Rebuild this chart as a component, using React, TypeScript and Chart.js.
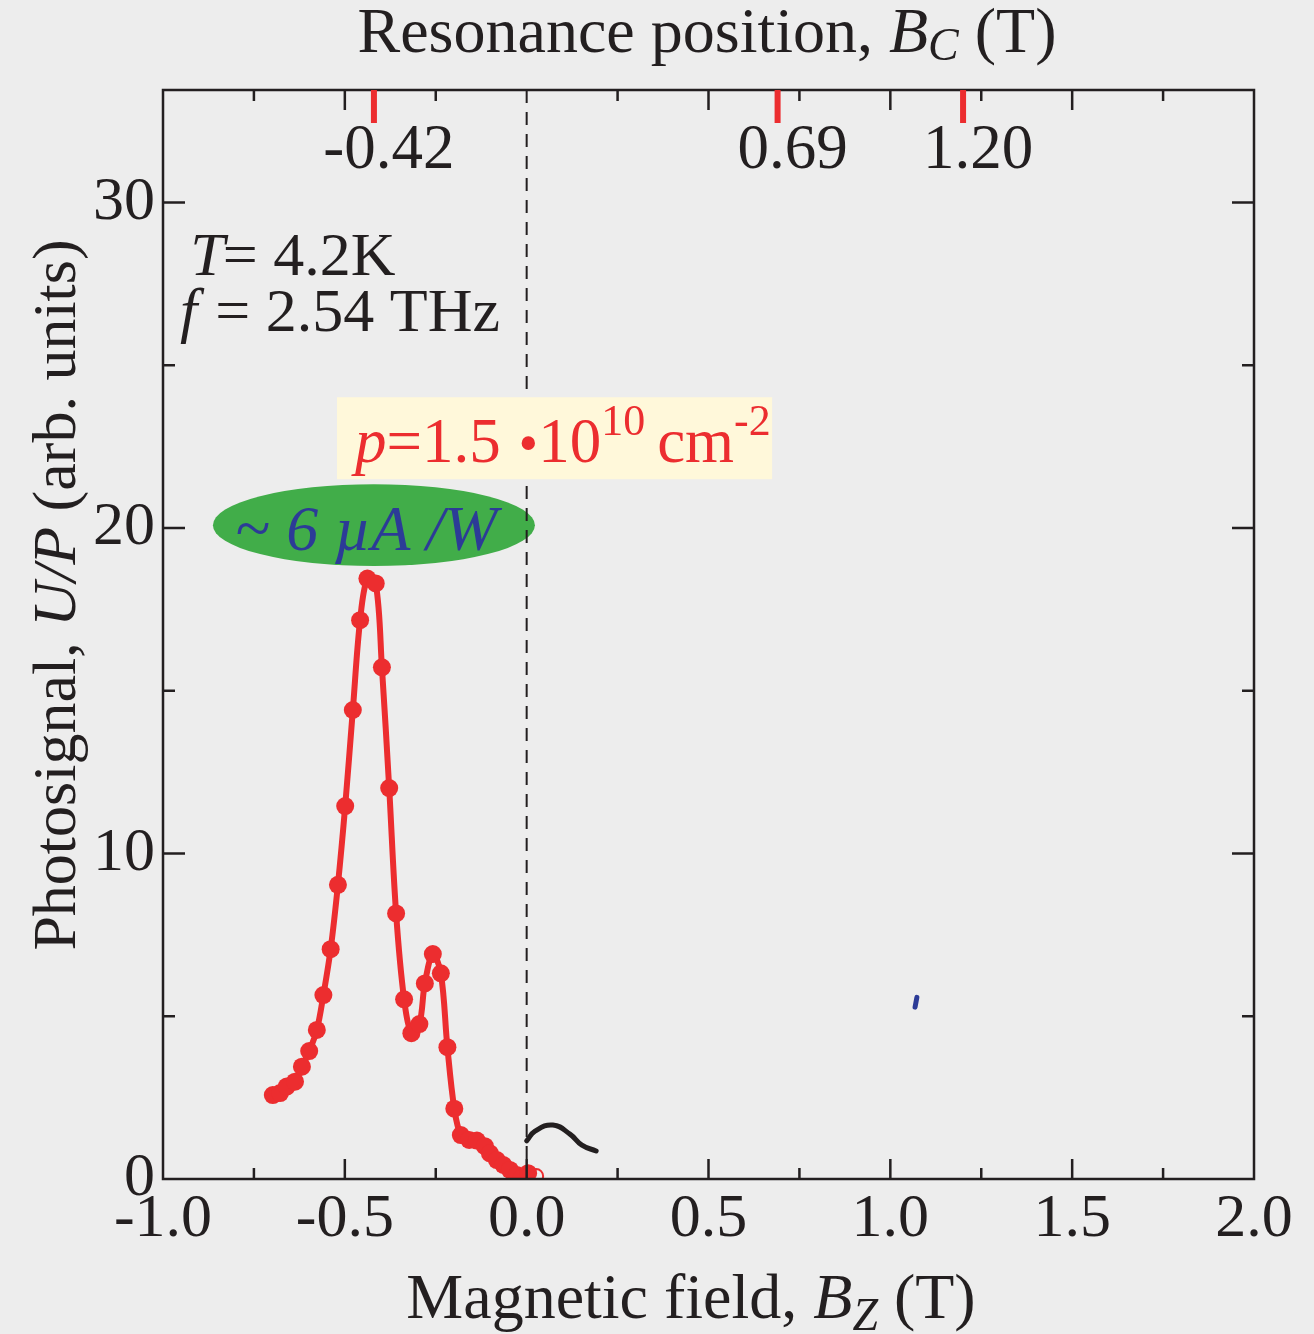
import { useEffect, useRef } from 'react';
import { Chart, registerables } from 'chart.js';

Chart.register(...registerables);

// ---- data ----
const fieldB = [
  -0.698, -0.678, -0.660, -0.637, -0.618, -0.598, -0.577, -0.559, -0.539, -0.519,
  -0.499, -0.478, -0.458, -0.438, -0.415, -0.398, -0.378, -0.359, -0.337, -0.317,
  -0.295, -0.280, -0.258, -0.236, -0.218, -0.199, -0.181, -0.158, -0.137, -0.115,
  -0.101, -0.082, -0.064, -0.046, -0.027, -0.014, 0.004,
];
const signal = [
  2.58, 2.64, 2.84, 2.99, 3.45, 3.93, 4.58, 5.65, 7.06, 9.04,
  11.46, 14.41, 17.17, 18.45, 18.30, 15.72, 12.01, 8.16, 5.52, 4.48,
  4.76, 6.01, 6.91, 6.32, 4.05, 2.16, 1.35, 1.20, 1.18, 1.01,
  0.79, 0.58, 0.43, 0.28, 0.12, 0.02, 0.18,
];
const openB = [0.026];
const openV = [0.09];
const blackB = [0.0, 0.023, 0.072, 0.119, 0.152, 0.191];
const blackV = [1.17, 1.47, 1.66, 1.38, 1.04, 0.86];
const blueB = [1.068, 1.073];
const blueV = [5.28, 5.58];
const resonanceB = [-0.42, 0.69, 1.2];
const resonanceLabels = ['-0.42', '0.69', '1.20'];

const X_MIN = -1;
const X_MAX = 2;
const Y_MIN = 0;
const Y_MAX = 33.46;

const RED = '#EC2D2F';
const INK = '#231F20';
const BLUE = '#2C3B97';
const GREEN = '#41AD49';
const FONT = '"Liberation Serif", "Times New Roman", serif';

type Run = { t: string; it?: boolean; s?: number; dy?: number; gap?: number };

function drawRuns(
  ctx: CanvasRenderingContext2D,
  runs: Run[],
  x: number,
  y: number,
  align: 'left' | 'center',
  color: string,
  base = 62
) {
  ctx.save();
  ctx.fillStyle = color;
  ctx.textBaseline = 'alphabetic';
  ctx.textAlign = 'left';
  const f = (r: Run) => `${r.it ? 'italic ' : ''}${r.s ?? base}px ${FONT}`;
  let total = 0;
  for (const r of runs) {
    ctx.font = f(r);
    total += ctx.measureText(r.t).width + (r.gap ?? 0);
  }
  let cx = align === 'center' ? x - total / 2 : x;
  for (const r of runs) {
    ctx.font = f(r);
    ctx.fillText(r.t, cx, y + (r.dy ?? 0));
    cx += ctx.measureText(r.t).width + (r.gap ?? 0);
  }
  ctx.restore();
}

const decorPlugin = {
  id: 'decor',
  beforeDraw(chart: any) {
    const ctx = chart.ctx as CanvasRenderingContext2D;
    ctx.save();
    ctx.fillStyle = '#EDEDED';
    ctx.fillRect(0, 0, chart.width, chart.height);
    ctx.restore();
  },
  beforeDatasetsDraw(chart: any) {
    const ctx = chart.ctx as CanvasRenderingContext2D;
    const xs = chart.scales.x;
    const ys = chart.scales.y;
    const { top, bottom } = chart.chartArea;

    // green ellipse
    const ecx = xs.getPixelForValue(-0.42);
    const ecy = ys.getPixelForValue(20.09);
    const erx = xs.getPixelForValue(-0.42 + 0.4427) - ecx;
    const ery = ys.getPixelForValue(20.09) - ys.getPixelForValue(20.09 + 1.258);
    ctx.save();
    ctx.fillStyle = GREEN;
    ctx.beginPath();
    ctx.ellipse(ecx, ecy, erx, ery, 0, 0, Math.PI * 2);
    ctx.fill();
    ctx.restore();

    // dashed zero line
    const x0 = xs.getPixelForValue(0);
    ctx.save();
    ctx.strokeStyle = INK;
    ctx.lineWidth = 2;
    ctx.setLineDash([13, 9]);
    ctx.beginPath();
    ctx.moveTo(x0, top);
    ctx.lineTo(x0, bottom);
    ctx.stroke();
    ctx.restore();

    // yellow box
    const bx1 = xs.getPixelForValue(-0.5216);
    const bx2 = xs.getPixelForValue(0.675);
    const by1 = ys.getPixelForValue(24.02);
    const by2 = ys.getPixelForValue(21.5);
    ctx.save();
    ctx.fillStyle = '#FFF8DA';
    ctx.fillRect(bx1, by1, bx2 - bx1, by2 - by1);
    ctx.restore();

    // texts
    drawRuns(
      ctx,
      [
        { t: 'p', it: true, s: 63 },
        { t: '=1.5 ', s: 63, gap: 2 },
        { t: '\u2022', s: 56, gap: 0 },
        { t: '10', s: 63 },
        { t: '10', s: 44, dy: -27, gap: 12 },
        { t: 'cm', s: 63 },
        { t: '-2', s: 44, dy: -27 },
      ],
      xs.getPixelForValue(-0.472),
      ys.getPixelForValue(22.02),
      'left',
      RED
    );
    drawRuns(ctx, [{ t: '~ ' }, { t: '6 \u00B5A /W', it: true }],
      xs.getPixelForValue(-0.8), ys.getPixelForValue(19.33), 'left', BLUE, 64);
    drawRuns(ctx, [{ t: 'T', it: true, gap: -2 }, { t: '= 4.2K' }],
      xs.getPixelForValue(-0.925), ys.getPixelForValue(27.79), 'left', INK);
    drawRuns(ctx, [{ t: 'f', it: true, gap: 18 }, { t: '= 2.54 THz' }],
      xs.getPixelForValue(-0.953), ys.getPixelForValue(26.07), 'left', INK);
  },
  afterDraw(chart: any) {
    const ctx = chart.ctx as CanvasRenderingContext2D;
    const xs = chart.scales.x;
    const ys = chart.scales.y;
    const { left, right, top, bottom } = chart.chartArea;

    ctx.save();
    ctx.strokeStyle = INK;
    ctx.lineWidth = 2.5;
    ctx.strokeRect(left, top, right - left, bottom - top);

    // inward ticks, x
    ctx.beginPath();
    for (const t of xs.ticks) {
      const v = t.value;
      if (v <= X_MIN + 1e-6 || v >= X_MAX - 1e-6) continue;
      const major = Math.abs(v * 2 - Math.round(v * 2)) < 1e-6;
      const len = major ? 20 : 11;
      const px = xs.getPixelForValue(v);
      ctx.moveTo(px, bottom);
      ctx.lineTo(px, bottom - len);
      if (Math.abs(v) > 1e-6) {
        ctx.moveTo(px, top);
        ctx.lineTo(px, top + len);
      }
    }
    // inward ticks, y
    for (const t of ys.ticks) {
      const v = t.value;
      if (v <= Y_MIN + 1e-6) continue;
      const major = Math.abs(v / 10 - Math.round(v / 10)) < 1e-6;
      const len = major ? 22 : 12;
      const py = ys.getPixelForValue(v);
      ctx.moveTo(left, py);
      ctx.lineTo(left + len, py);
      ctx.moveTo(right, py);
      ctx.lineTo(right - len, py);
    }
    ctx.stroke();

    // resonance markers on top axis
    ctx.strokeStyle = RED;
    ctx.lineWidth = 6;
    ctx.beginPath();
    for (const b of resonanceB) {
      const px = xs.getPixelForValue(b);
      ctx.moveTo(px, top);
      ctx.lineTo(px, top + 33);
    }
    ctx.stroke();
    ctx.restore();

    resonanceB.forEach((b, i) => {
      drawRuns(ctx, [{ t: resonanceLabels[i] }], xs.getPixelForValue(b) + 15, top + 78, 'center', INK, 63);
    });

    // axis titles
    drawRuns(ctx, [{ t: 'Resonance position, ' }, { t: 'B', it: true }, { t: 'C', it: true, s: 46, dy: 8 }, { t: ' (T)' }],
      707, 52, 'center', INK, 64);
    drawRuns(ctx, [{ t: 'Magnetic field, ' }, { t: 'B', it: true }, { t: 'Z', it: true, s: 46, dy: 12 }, { t: ' (T)' }],
      691, 1318, 'center', INK, 64);
    ctx.save();
    ctx.translate(75, 595);
    ctx.rotate(-Math.PI / 2);
    drawRuns(ctx, [{ t: 'Photosignal, ' }, { t: 'U/P', it: true }, { t: ' (arb. units)' }], 0, 0, 'center', INK, 62);
    ctx.restore();
  },
};

export default function App() {
  const ref = useRef<HTMLCanvasElement>(null);

  useEffect(() => {
    if (!ref.current) return;
    const mainData = fieldB.map((b, i) => ({ x: b, y: signal[i] }));
    const openData = openB.map((b, i) => ({ x: b, y: openV[i] }));
    const blackData = blackB.map((b, i) => ({ x: b, y: blackV[i] }));
    const blueData = blueB.map((b, i) => ({ x: b, y: blueV[i] }));

    const chart = new Chart(ref.current, {
      type: 'line',
      data: {
        datasets: [
          {
            data: blackData,
            borderColor: INK,
            borderWidth: 5,
            pointRadius: 0,
            tension: 0.45,
            borderCapStyle: 'round',
          },
          {
            data: blueData,
            borderColor: BLUE,
            borderWidth: 5,
            pointRadius: 0,
            borderCapStyle: 'round',
          },
          {
            data: mainData,
            borderColor: RED,
            borderWidth: 6,
            pointRadius: 9,
            pointBackgroundColor: RED,
            pointBorderColor: RED,
            pointBorderWidth: 0,
            tension: 0.35,
          },
          {
            data: openData,
            showLine: false,
            pointRadius: 7,
            pointBackgroundColor: 'rgba(0,0,0,0)',
            pointBorderColor: RED,
            pointBorderWidth: 2,
          },
        ] as any,
      },
      options: {
        animation: false,
        responsive: false,
        maintainAspectRatio: false,
        devicePixelRatio: 1,
        events: [],
        layout: { padding: { top: 90, right: 60, left: 0, bottom: 0 } },
        plugins: { legend: { display: false }, tooltip: { enabled: false } },
        scales: {
          x: {
            type: 'linear',
            position: 'bottom',
            min: X_MIN,
            max: X_MAX,
            grid: { display: false, drawTicks: false },
            border: { display: false },
            ticks: {
              stepSize: 0.25,
              autoSkip: false,
              maxRotation: 0,
              padding: 4,
              color: INK,
              font: { family: FONT, size: 62 },
              callback: (value: any) => {
                const v = Number(value);
                return Math.abs(v * 2 - Math.round(v * 2)) < 1e-6 ? v.toFixed(1) : '';
              },
            },
            afterFit: (scale: any) => {
              scale.height = 155;
            },
          },
          y: {
            type: 'linear',
            min: Y_MIN,
            max: Y_MAX,
            grid: { display: false, drawTicks: false },
            border: { display: false },
            ticks: {
              stepSize: 5,
              includeBounds: false,
              autoSkip: false,
              padding: 8,
              color: INK,
              font: { family: FONT, size: 62 },
              callback: (value: any) => {
                const v = Number(value);
                return Math.abs(v / 10 - Math.round(v / 10)) < 1e-6 ? String(Math.round(v)) : '';
              },
            },
            afterFit: (scale: any) => {
              scale.width = 163;
            },
          },
        },
      } as any,
      plugins: [decorPlugin],
    });
    return () => chart.destroy();
  }, []);

  return (
    <div style={{ position: 'absolute', left: 0, top: 0, width: 1314, height: 1334, background: '#EDEDED' }}>
      <canvas ref={ref} width={1314} height={1334} style={{ width: 1314, height: 1334, display: 'block' }} />
    </div>
  );
}
